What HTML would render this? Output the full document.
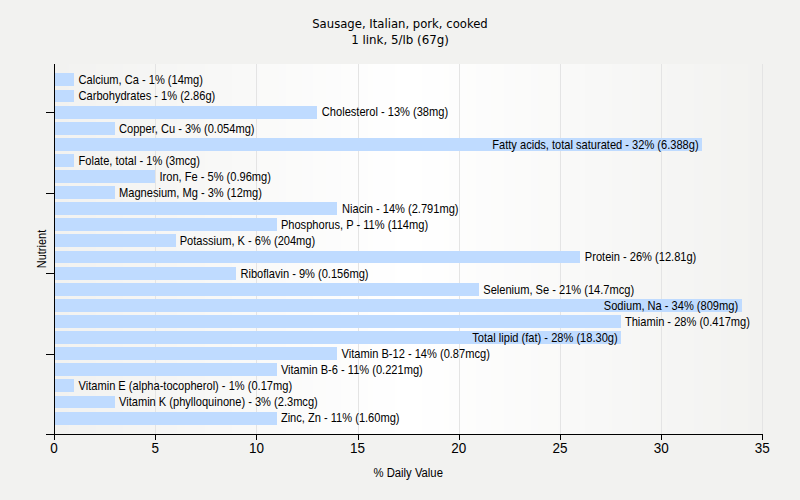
<!DOCTYPE html>
<html><head><meta charset="utf-8"><title>Sausage, Italian, pork, cooked</title><style>html,body{margin:0;padding:0;background:#f2f2f0}svg{display:block}text{fill:#000}</style></head><body>
<svg width="800" height="500" viewBox="0 0 800 500" shape-rendering="crispEdges">
<rect x="0" y="0" width="800" height="500" fill="#f2f2f0"/>
<rect x="55" y="64" width="12" height="370" fill="#f2f2f0"/>
<rect x="67" y="64" width="2" height="370" fill="#f2f2f1"/>
<rect x="69" y="64" width="21" height="370" fill="#f3f3f1"/>
<rect x="90" y="64" width="6" height="370" fill="#f3f3f2"/>
<rect x="96" y="64" width="18" height="370" fill="#f4f4f2"/>
<rect x="114" y="64" width="9" height="370" fill="#f4f4f3"/>
<rect x="123" y="64" width="14" height="370" fill="#f5f5f3"/>
<rect x="137" y="64" width="13" height="370" fill="#f5f5f4"/>
<rect x="150" y="64" width="11" height="370" fill="#f6f6f4"/>
<rect x="161" y="64" width="16" height="370" fill="#f6f6f5"/>
<rect x="177" y="64" width="8" height="370" fill="#f7f7f5"/>
<rect x="185" y="64" width="20" height="370" fill="#f7f7f6"/>
<rect x="205" y="64" width="3" height="370" fill="#f8f8f6"/>
<rect x="208" y="64" width="24" height="370" fill="#f8f8f7"/>
<rect x="232" y="64" width="23" height="370" fill="#f9f9f8"/>
<rect x="255" y="64" width="4" height="370" fill="#f9f9f9"/>
<rect x="259" y="64" width="20" height="370" fill="#fafaf9"/>
<rect x="279" y="64" width="7" height="370" fill="#fafafa"/>
<rect x="286" y="64" width="16" height="370" fill="#fbfbfa"/>
<rect x="302" y="64" width="11" height="370" fill="#fbfbfb"/>
<rect x="313" y="64" width="13" height="370" fill="#fcfcfb"/>
<rect x="326" y="64" width="15" height="370" fill="#fcfcfc"/>
<rect x="341" y="64" width="9" height="370" fill="#fdfdfc"/>
<rect x="350" y="64" width="18" height="370" fill="#fdfdfd"/>
<rect x="368" y="64" width="5" height="370" fill="#fefefd"/>
<rect x="373" y="64" width="22" height="370" fill="#fefefe"/>
<rect x="395" y="64" width="2" height="370" fill="#fffffe"/>
<rect x="397" y="64" width="23" height="370" fill="#ffffff"/>
<rect x="420" y="64" width="2" height="370" fill="#fffffe"/>
<rect x="422" y="64" width="22" height="370" fill="#fefefe"/>
<rect x="444" y="64" width="5" height="370" fill="#fefefd"/>
<rect x="449" y="64" width="18" height="370" fill="#fdfdfd"/>
<rect x="467" y="64" width="9" height="370" fill="#fdfdfc"/>
<rect x="476" y="64" width="15" height="370" fill="#fcfcfc"/>
<rect x="491" y="64" width="13" height="370" fill="#fcfcfb"/>
<rect x="504" y="64" width="11" height="370" fill="#fbfbfb"/>
<rect x="515" y="64" width="16" height="370" fill="#fbfbfa"/>
<rect x="531" y="64" width="7" height="370" fill="#fafafa"/>
<rect x="538" y="64" width="20" height="370" fill="#fafaf9"/>
<rect x="558" y="64" width="4" height="370" fill="#f9f9f9"/>
<rect x="562" y="64" width="23" height="370" fill="#f9f9f8"/>
<rect x="585" y="64" width="24" height="370" fill="#f8f8f7"/>
<rect x="609" y="64" width="3" height="370" fill="#f8f8f6"/>
<rect x="612" y="64" width="20" height="370" fill="#f7f7f6"/>
<rect x="632" y="64" width="8" height="370" fill="#f7f7f5"/>
<rect x="640" y="64" width="16" height="370" fill="#f6f6f5"/>
<rect x="656" y="64" width="11" height="370" fill="#f6f6f4"/>
<rect x="667" y="64" width="13" height="370" fill="#f5f5f4"/>
<rect x="680" y="64" width="14" height="370" fill="#f5f5f3"/>
<rect x="694" y="64" width="9" height="370" fill="#f4f4f3"/>
<rect x="703" y="64" width="18" height="370" fill="#f4f4f2"/>
<rect x="721" y="64" width="6" height="370" fill="#f3f3f2"/>
<rect x="727" y="64" width="21" height="370" fill="#f3f3f1"/>
<rect x="748" y="64" width="2" height="370" fill="#f2f2f1"/>
<rect x="750" y="64" width="12" height="370" fill="#f2f2f0"/>
<rect x="155" y="64" width="1" height="370" fill="#e4e4e4"/>
<rect x="256" y="64" width="1" height="370" fill="#e4e4e4"/>
<rect x="358" y="64" width="1" height="370" fill="#e4e4e4"/>
<rect x="459" y="64" width="1" height="370" fill="#e4e4e4"/>
<rect x="560" y="64" width="1" height="370" fill="#e4e4e4"/>
<rect x="661" y="64" width="1" height="370" fill="#e4e4e4"/>
<rect x="762" y="64" width="1" height="370" fill="#e4e4e4"/>
<rect x="55" y="73" width="19" height="13" fill="#bfdbff"/>
<rect x="55" y="90" width="19" height="12" fill="#bfdbff"/>
<rect x="55" y="106" width="262" height="13" fill="#bfdbff"/>
<rect x="55" y="122" width="60" height="13" fill="#bfdbff"/>
<rect x="55" y="138" width="647" height="13" fill="#bfdbff"/>
<rect x="55" y="154" width="19" height="13" fill="#bfdbff"/>
<rect x="55" y="170" width="100" height="13" fill="#bfdbff"/>
<rect x="55" y="186" width="60" height="13" fill="#bfdbff"/>
<rect x="55" y="202" width="282" height="13" fill="#bfdbff"/>
<rect x="55" y="218" width="222" height="13" fill="#bfdbff"/>
<rect x="55" y="234" width="121" height="13" fill="#bfdbff"/>
<rect x="55" y="251" width="525" height="12" fill="#bfdbff"/>
<rect x="55" y="267" width="181" height="13" fill="#bfdbff"/>
<rect x="55" y="283" width="424" height="13" fill="#bfdbff"/>
<rect x="55" y="299" width="687" height="13" fill="#bfdbff"/>
<rect x="55" y="315" width="566" height="13" fill="#bfdbff"/>
<rect x="55" y="331" width="566" height="13" fill="#bfdbff"/>
<rect x="55" y="347" width="282" height="13" fill="#bfdbff"/>
<rect x="55" y="363" width="222" height="13" fill="#bfdbff"/>
<rect x="55" y="379" width="19" height="13" fill="#bfdbff"/>
<rect x="55" y="396" width="60" height="12" fill="#bfdbff"/>
<rect x="55" y="412" width="222" height="13" fill="#bfdbff"/>
<rect x="54" y="64" width="1" height="371" fill="#000"/>
<rect x="46" y="434" width="717" height="1" fill="#000"/>
<rect x="54" y="435" width="1" height="5" fill="#000"/>
<rect x="155" y="435" width="1" height="5" fill="#000"/>
<rect x="256" y="435" width="1" height="5" fill="#000"/>
<rect x="358" y="435" width="1" height="5" fill="#000"/>
<rect x="459" y="435" width="1" height="5" fill="#000"/>
<rect x="560" y="435" width="1" height="5" fill="#000"/>
<rect x="661" y="435" width="1" height="5" fill="#000"/>
<rect x="762" y="435" width="1" height="5" fill="#000"/>
<rect x="46" y="112" width="8" height="1" fill="#000"/>
<rect x="46" y="193" width="8" height="1" fill="#000"/>
<rect x="46" y="273" width="8" height="1" fill="#000"/>
<rect x="46" y="354" width="8" height="1" fill="#000"/>
</svg>
<svg width="800" height="500" viewBox="0 0 800 500" style="position:absolute;left:0;top:0">
<g font-family="'Liberation Sans',Arial,sans-serif" font-size="11.1">
<text transform="translate(78.54,84) scale(1,1.12)">Calcium, Ca - 1% (14mg)</text>
<text transform="translate(78.54,100) scale(1,1.12)">Carbohydrates - 1% (2.86g)</text>
<text transform="translate(321.86,116) scale(1,1.12)">Cholesterol - 13% (38mg)</text>
<text transform="translate(119.01,133) scale(1,1.12)">Copper, Cu - 3% (0.054mg)</text>
<text text-anchor="end" transform="translate(698.62,149) scale(1,1.12)">Fatty acids, total saturated - 32% (6.388g)</text>
<text transform="translate(78.54,165) scale(1,1.12)">Folate, total - 1% (3mcg)</text>
<text transform="translate(159.47,181) scale(1,1.12)">Iron, Fe - 5% (0.96mg)</text>
<text transform="translate(119.01,197) scale(1,1.12)">Magnesium, Mg - 3% (12mg)</text>
<text transform="translate(342.09,213) scale(1,1.12)">Niacin - 14% (2.791mg)</text>
<text transform="translate(280.88,229) scale(1,1.12)">Phosphorus, P - 11% (114mg)</text>
<text transform="translate(179.71,245) scale(1,1.12)">Potassium, K - 6% (204mg)</text>
<text transform="translate(584.81,261) scale(1,1.12)">Protein - 26% (12.81g)</text>
<text transform="translate(240.41,278) scale(1,1.12)">Riboflavin - 9% (0.156mg)</text>
<text transform="translate(483.24,294) scale(1,1.12)">Selenium, Se - 21% (14.7mcg)</text>
<text text-anchor="end" transform="translate(738.09,310) scale(1,1.12)">Sodium, Na - 34% (809mg)</text>
<text transform="translate(624.88,326) scale(1,1.12)">Thiamin - 28% (0.417mg)</text>
<text text-anchor="end" transform="translate(617.68,342) scale(1,1.12)">Total lipid (fat) - 28% (18.30g)</text>
<text transform="translate(341.59,358) scale(1,1.12)">Vitamin B-12 - 14% (0.87mcg)</text>
<text transform="translate(280.88,374) scale(1,1.12)">Vitamin B-6 - 11% (0.221mg)</text>
<text transform="translate(78.54,390) scale(1,1.12)">Vitamin E (alpha-tocopherol) - 1% (0.17mg)</text>
<text transform="translate(119.01,406) scale(1,1.12)">Vitamin K (phylloquinone) - 3% (2.3mcg)</text>
<text transform="translate(280.88,422) scale(1,1.12)">Zinc, Zn - 11% (1.60mg)</text>
</g>
<g font-family="'Liberation Sans',Arial,sans-serif" font-size="13.5" text-anchor="middle">
<text transform="translate(54.10,452.5) scale(1,1.1)">0</text>
<text transform="translate(155.28,452.5) scale(1,1.1)">5</text>
<text transform="translate(256.45,452.5) scale(1,1.1)">10</text>
<text transform="translate(357.62,452.5) scale(1,1.1)">15</text>
<text transform="translate(458.80,452.5) scale(1,1.1)">20</text>
<text transform="translate(559.98,452.5) scale(1,1.1)">25</text>
<text transform="translate(661.15,452.5) scale(1,1.1)">30</text>
<text transform="translate(762.33,452.5) scale(1,1.1)">35</text>
</g>
<text font-family="'DejaVu Sans',Verdana,sans-serif" font-size="11.65" text-anchor="middle" x="400" y="28">Sausage, Italian, pork, cooked</text>
<text font-family="'DejaVu Sans',Verdana,sans-serif" font-size="11.85" text-anchor="middle" x="400" y="44">1 link, 5/lb (67g)</text>
<text font-family="'Liberation Sans',Arial,sans-serif" font-size="11.3" text-anchor="middle" transform="translate(408.2,477) scale(1,1.12)">% Daily Value</text>
<text font-family="'Liberation Sans',Arial,sans-serif" font-size="11.0" text-anchor="middle" transform="translate(46,249) rotate(-90) scale(1,1.12)">Nutrient</text>
</svg></body></html>
